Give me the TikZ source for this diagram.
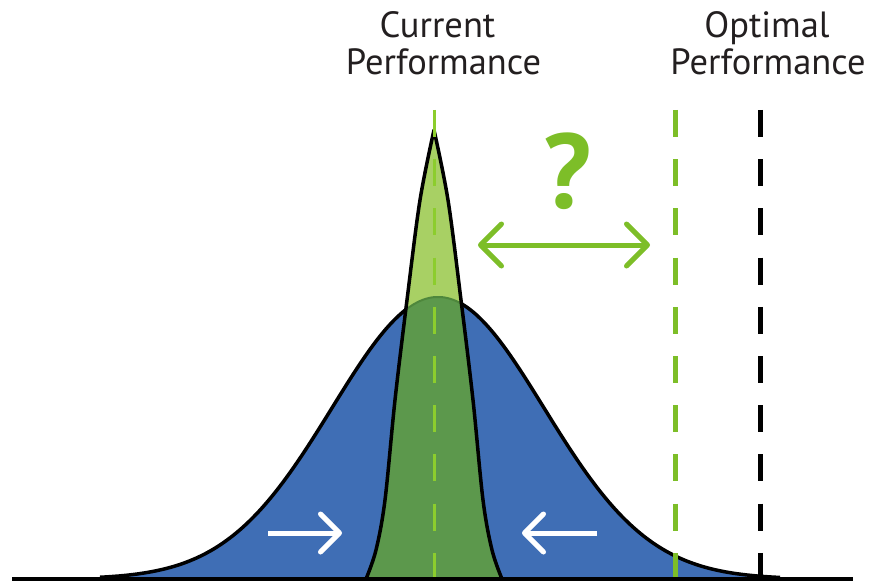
\documentclass[tikz,border=0pt]{standalone}
\usepackage{fontspec}
\setmainfont{PT Sans}
\usetikzlibrary{arrows.meta}
\definecolor{bellblue}{RGB}{63,110,181}
\definecolor{lightgr}{RGB}{168,208,100}
\definecolor{darkgr}{RGB}{92,152,76}
\definecolor{edgegr}{RGB}{78,135,60}
\definecolor{lime}{RGB}{125,190,40}
\definecolor{limec}{RGB}{140,205,45}
\definecolor{txt}{RGB}{35,31,32}
\tikzset{
  label/.style={font=\fontsize{36.5}{38}\selectfont, text=txt, inner sep=0pt, anchor=base},
  outline/.style={draw=black, line width=3.5pt, line join=round},
  refline/.style={line width=5pt, dash pattern=on 27pt off 22.2pt},
  gaparrow/.style={draw=lime, line width=5pt, {Straight Barb[length=21pt,width=42pt,round]}-{Straight Barb[length=21pt,width=42pt,round]}},
  squeeze/.style={draw=white, line width=5pt, -{Straight Barb[length=19pt,width=38pt,round]}}
}
\begin{document}
\begin{tikzpicture}[x=1pt,y=-1pt]
\useasboundingbox (0,0) rectangle (870,583);
\def\bell{plot[domain=100:780,samples=220] (\x,{579-282*exp(-((\x-438)/106)^2/2)})}
\def\narrow{plot[smooth,tension=0.55] coordinates {(366,579) (376,550) (385,500) (395,400) (407,300) (420,200) (434,130)}
  -- plot[smooth,tension=0.55] coordinates {(434,130) (448,200) (461,300) (473,400) (483,500) (492,550) (502,579)} -- cycle}
% wide distribution
\fill[bellblue] \bell -- cycle;
\draw[outline] \bell;
% narrow distribution
\fill[lightgr] \narrow;
\begin{scope}
  \clip \bell -- cycle;
  \fill[darkgr] \narrow;
\end{scope}
\begin{scope}
  \clip \narrow;
  \draw[edgegr, line width=2pt] \bell;
\end{scope}
\draw[outline] \narrow;
% reference lines
\coordinate (ct) at (434,110);
\coordinate (cb) at (434,579);
\draw[limec, line width=3pt, dash pattern=on 27pt off 22.2pt] (ct) -- (cb);
\coordinate (gt) at (675,110);
\coordinate (gb) at (675,580);
\draw[lime, refline] (gt) -- (gb);
\coordinate (kt) at (760,110);
\coordinate (kb) at (760,580);
\draw[black, refline] (kt) -- (kb);
% baseline
\coordinate (bl) at (12,579);
\coordinate (br) at (853,579);
\draw[black, line width=4pt] (bl) -- (br);
% arrows
\coordinate (qa) at (478,245);
\coordinate (qb) at (650,245);
\draw[gaparrow] (qa) -- (qb);
\coordinate (la) at (268,533);
\coordinate (lb) at (342,533);
\draw[squeeze] (la) -- (lb);
\coordinate (ra) at (597,533);
\coordinate (rb) at (522,533);
\draw[squeeze] (ra) -- (rb);
% texts
\node[label] (cur1) at (437.5,38) {Current};
\node[label] (cur2) at (443.5,75) {Performance};
\node[label] (opt1) at (767,38) {Optimal};
\node[label] (opt2) at (768,75) {Performance};
\node[anchor=base, inner sep=0pt, text=lime, font=\fontsize{106}{110}\bfseries\selectfont] (q) at (568,208) {?};
\end{tikzpicture}
\end{document}
